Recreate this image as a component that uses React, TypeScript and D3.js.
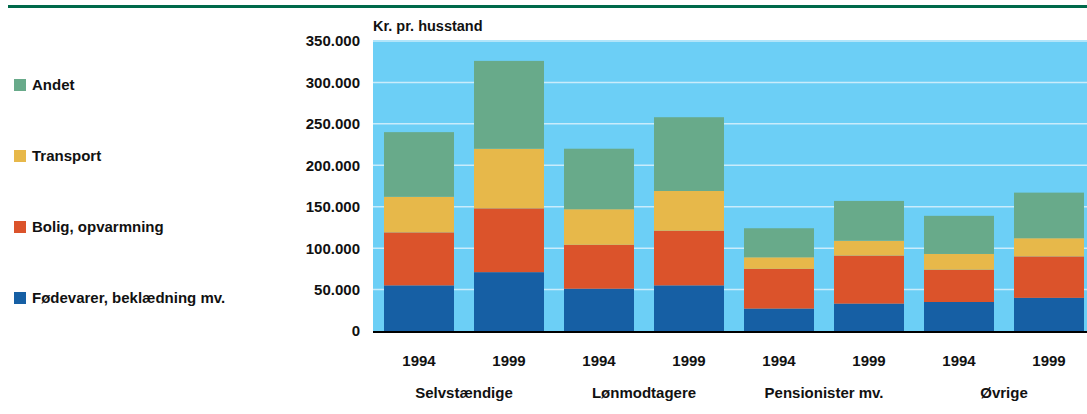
import { useEffect, useRef } from "react";
import * as d3 from "d3";

const bars = ["1994", "1999", "1994", "1999", "1994", "1999", "1994", "1999"];
const groups = ["Selvstændige", "Lønmodtagere", "Pensionister mv.", "Øvrige"];
const seriesNames = ["Fødevarer, beklædning mv.", "Bolig, opvarmning", "Transport", "Andet"];
const foedevarer = [55000, 71000, 51000, 55000, 27000, 33000, 35000, 40000];
const bolig = [64000, 77000, 53000, 66000, 48000, 58000, 39000, 50000];
const transport = [43000, 72000, 43000, 48000, 14000, 18000, 19000, 22000];
const andet = [78000, 106000, 73000, 89000, 35000, 48000, 46000, 55000];
const yTicks = [0, 50000, 100000, 150000, 200000, 250000, 300000, 350000];
const colors = ["#165fa4", "#db532b", "#e7b84a", "#68aa8a"];

const W = 1087, H = 414;
const plot = { left: 373, right: 1087, top: 41, bottom: 331 };
const font = "'Liberation Sans', Arial, sans-serif";

export default function App() {
  const ref = useRef<SVGSVGElement>(null);

  useEffect(() => {
    const svg = d3.select(ref.current);
    svg.selectAll("*").remove();

    const rows = bars.map((b, i) => ({
      key: i,
      year: b,
      s0: foedevarer[i], s1: bolig[i], s2: transport[i], s3: andet[i],
    }));
    const stack = d3.stack<any>().keys(["s0", "s1", "s2", "s3"])(rows);

    const x = d3.scaleBand<number>()
      .domain(rows.map((r) => r.key))
      .range([plot.left + 1, plot.left + 1 + 8 * 90])
      .paddingInner(2 / 9)
      .paddingOuter(1 / 9);
    const y = d3.scaleLinear().domain([0, 350000]).range([plot.bottom, plot.top]);

    // top rule
    svg.append("rect").attr("x", 8).attr("y", 5).attr("width", W - 8).attr("height", 3).attr("fill", "#00694a");

    // plot background
    svg.append("rect")
      .attr("x", plot.left).attr("y", plot.top - 1)
      .attr("width", plot.right - plot.left).attr("height", plot.bottom - plot.top + 1)
      .attr("fill", "#6ccff6");

    // grid
    svg.append("g").selectAll("line").data(yTicks.slice(1)).join("line")
      .attr("x1", plot.left).attr("x2", plot.right)
      .attr("y1", (d) => y(d)).attr("y2", (d) => y(d))
      .attr("stroke", "#c9ecfb").attr("stroke-width", 1.5);

    // bars
    svg.append("g").selectAll("g").data(stack).join("g")
      .attr("fill", (_, i) => colors[i])
      .selectAll("rect").data((s) => s).join("rect")
      .attr("x", (d: any) => x(d.data.key)!)
      .attr("width", x.bandwidth())
      .attr("y", (d) => y(d[1]))
      .attr("height", (d) => y(d[0]) - y(d[1]));

    // baseline
    svg.append("line")
      .attr("x1", plot.left).attr("x2", plot.right)
      .attr("y1", plot.bottom + 1).attr("y2", plot.bottom + 1)
      .attr("stroke", "#000").attr("stroke-width", 2);

    // y labels
    svg.append("g").selectAll("text").data(yTicks).join("text")
      .attr("x", 360).attr("y", (d) => y(d))
      .attr("dy", "0.36em")
      .attr("text-anchor", "end")
      .attr("font-family", font).attr("font-weight", "bold").attr("font-size", 15)
      .attr("fill", "#111")
      .text((d) => (d === 0 ? "0" : d3.format(",")(d).replace(/,/g, ".")));

    svg.append("text")
      .attr("x", plot.left).attr("y", 31)
      .attr("font-family", font).attr("font-weight", "bold").attr("font-size", 14.5)
      .attr("fill", "#111")
      .text("Kr. pr. husstand");

    // year labels
    svg.append("g").selectAll("text").data(rows).join("text")
      .attr("x", (d) => x(d.key)! + x.bandwidth() / 2)
      .attr("y", 361).attr("dy", "0.36em")
      .attr("text-anchor", "middle")
      .attr("font-family", font).attr("font-weight", "bold").attr("font-size", 15)
      .attr("fill", "#111")
      .text((d) => d.year);

    // group labels
    svg.append("g").selectAll("text").data(groups).join("text")
      .attr("x", (_, i) => (x(i * 2)! + x(i * 2 + 1)! + x.bandwidth()) / 2)
      .attr("y", 393).attr("dy", "0.36em")
      .attr("text-anchor", "middle")
      .attr("font-family", font).attr("font-weight", "bold").attr("font-size", 15)
      .attr("fill", "#111")
      .text((d) => d);

    // legend (top to bottom: Andet ... Fødevarer)
    const legendY = d3.scalePoint<number>().domain([3, 2, 1, 0]).range([85, 298]);
    const lg = svg.append("g").selectAll("g").data([3, 2, 1, 0]).join("g")
      .attr("transform", (d) => `translate(14,${legendY(d)})`);
    lg.append("rect").attr("x", 0).attr("y", -6).attr("width", 12).attr("height", 12)
      .attr("fill", (d) => colors[d]);
    lg.append("text").attr("x", 18).attr("y", 0).attr("dy", "0.36em")
      .attr("font-family", font).attr("font-weight", "bold").attr("font-size", 15)
      .attr("fill", "#111")
      .text((d) => seriesNames[d]);
  }, []);

  return (
    <svg ref={ref} width={W} height={H} style={{ position: "absolute", left: 0, top: 0, background: "#fff" }} />
  );
}
